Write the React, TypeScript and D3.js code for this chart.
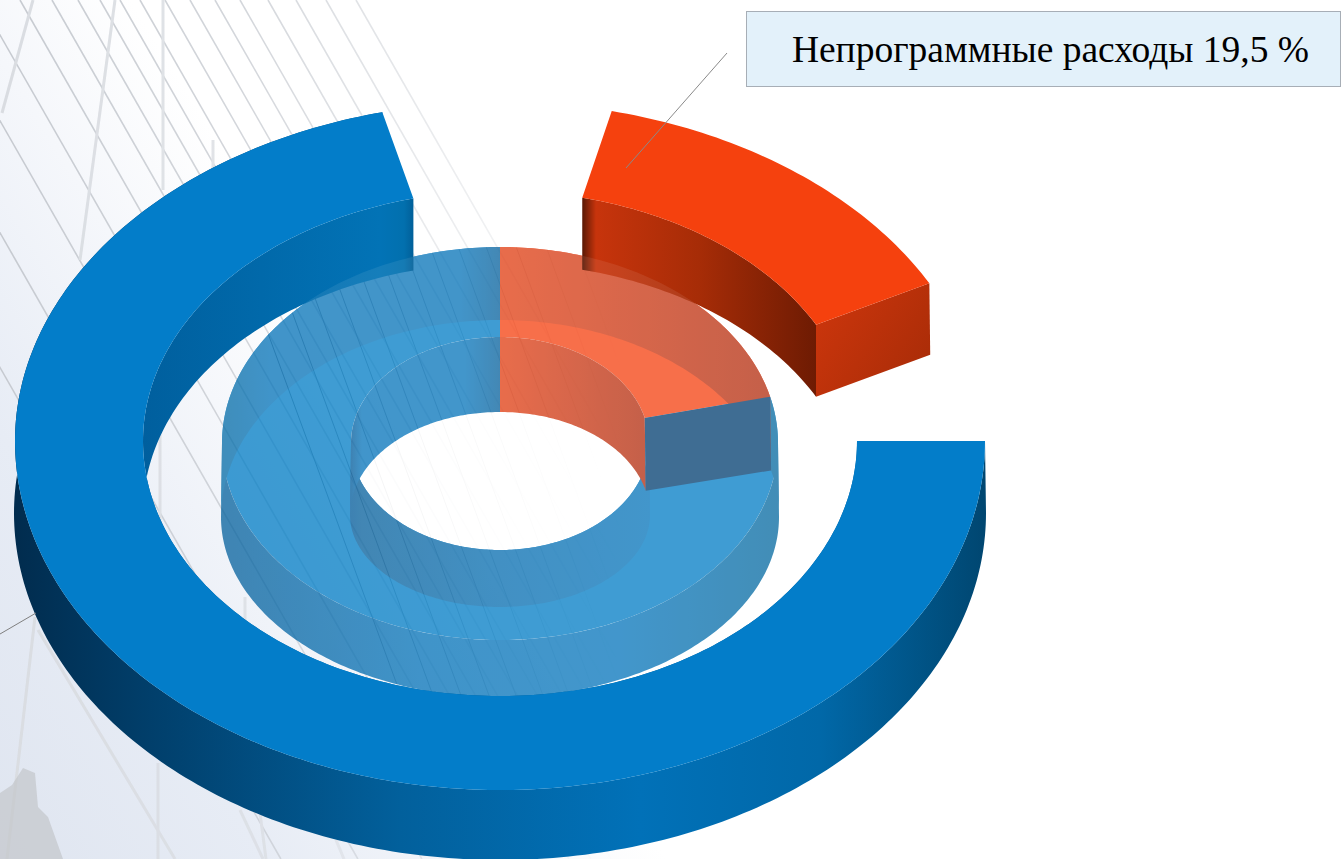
import * as d3 from 'd3';
import { useEffect, useRef } from 'react';

// Inner (translucent) ring, share of the circle
const innerNames = ['Непрограммные расходы', 'Программные расходы'];
const innerShares = [21.2, 78.8];

// Outer ring: pulled out segments with gaps between them, going clockwise from 12 o'clock
const outerNames = ['gap', 'red', 'gap', 'blue', 'gap'];
const outerShares = [3.7, 13.6, 7.7, 71.1, 3.9];

const labelText = 'Непрограммные расходы 19,5 %';

type Rim = { rx: number; cy: number; back: number; front: number };

const cx = 500;

// Perspective makes each ellipse a bit taller in front than behind
const ringTopOuter: Rim = { rx: 485, cy: 441, back: 339, front: 349 };
const ringTopInner: Rim = { rx: 357, cy: 441, back: 250, front: 255 };
const ringBotOuter: Rim = { rx: 486, cy: 513, back: 340, front: 347 };
const ringBotInner: Rim = { rx: 357, cy: 513, back: 250, front: 255 };

const coreTopOuter: Rim = { rx: 278, cy: 443, back: 196, front: 197 };
const coreTopHole: Rim = { rx: 149, cy: 443, back: 106, front: 107 };
const coreBotOuter: Rim = { rx: 279, cy: 517, back: 197, front: 180 };
const coreBotHole: Rim = { rx: 150, cy: 515, back: 103, front: 92 };

const rimPoint = (rim: Rim, a: number): [number, number] => {
    const c = Math.cos(a);
    return [cx + rim.rx * Math.sin(a), rim.cy - c * (c > 0 ? rim.back : rim.front)];
};

const rimPoints = (rim: Rim, a0: number, a1: number) => {
    const n = Math.max(2, Math.ceil(Math.abs(a1 - a0) * 60));
    return d3.range(n + 1).map((i) => rimPoint(rim, a0 + ((a1 - a0) * i) / n));
};

const line = d3.line();

// Closed shape between two rims, used for both faces and walls
const between = (r1: Rim, r2: Rim, a0: number, a1: number) =>
    line([...rimPoints(r1, a0, a1), ...rimPoints(r2, a1, a0)]) + 'Z';

const fullRim = (rim: Rim) => line(rimPoints(rim, 0, 2 * Math.PI)) + 'Z';

const App = () => {
    const ref = useRef<SVGSVGElement>(null);

    useEffect(() => {
        const svg = d3.select(ref.current);
        svg.selectAll('*').remove();
        const defs = svg.append('defs');

        const gradient = (id: string, x1: number, y1: number, x2: number, y2: number, stops: [number, string][]) => {
            const g = defs
                .append('linearGradient')
                .attr('id', id)
                .attr('gradientUnits', 'userSpaceOnUse')
                .attr('x1', x1)
                .attr('y1', y1)
                .attr('x2', x2)
                .attr('y2', y2);
            stops.forEach(([o, c]) => g.append('stop').attr('offset', o).attr('stop-color', c));
        };
        const across = (id: string, x0: number, x1: number, stops: [number, string][]) =>
            gradient(id, x0, 0, x1, 0, stops.map(([x, c]) => [(x - x0) / (x1 - x0), c]));

        gradient('bg', 0, 859, 480, 560, [
            [0, '#dfe5f0'],
            [0.4, '#e7ecf5'],
            [0.75, '#f5f7fb'],
            [1, '#ffffff'],
        ]);
        across('fade', 0, 620, [
            [0, '#ffffff'],
            [250, '#c0c0c0'],
            [620, '#000000'],
        ]);
        across('ringOuterWall', 15, 987, [
            [15, '#012c4e'],
            [150, '#013f6b'],
            [400, '#02609c'],
            [640, '#0171b8'],
            [820, '#0168a8'],
            [987, '#004670'],
        ]);
        across('ringInnerWall', 143, 413, [
            [143, '#005f9e'],
            [380, '#0273b6'],
            [404, '#0270ae'],
            [413, '#01609a'],
        ]);
        across('redInnerWall', 583, 816, [
            [583, '#5f1a05'],
            [596, '#c7340c'],
            [700, '#a62c07'],
            [816, '#6e1b03'],
        ]);
        gradient('redEndFace', 816, 325, 930, 400, [
            [0, '#c9350c'],
            [1, '#a52b07'],
        ]);
        across('coreOuterFront', 222, 779, [
            [222, '#04609c'],
            [420, '#0372b8'],
            [620, '#0374bb'],
            [779, '#03689f'],
        ]);
        across('coreOuterBack', 222, 500, [
            [222, '#036ba6'],
            [270, '#0372b8'],
            [460, '#0372b8'],
            [500, '#05609c'],
        ]);
        across('coreHoleFront', 351, 651, [
            [351, '#005a9a'],
            [362, '#05609c'],
            [500, '#036cb0'],
            [651, '#0373ba'],
        ]);
        across('coreHoleBack', 351, 500, [
            [351, '#005a9a'],
            [362, '#0373ba'],
            [465, '#0373ba'],
            [500, '#05609c'],
        ]);
        across('coreRed', 500, 779, [
            [500, '#e13c10'],
            [779, '#b02b0d'],
        ]);
        across('coreRedHole', 500, 651, [
            [500, '#e13c10'],
            [651, '#b02b0d'],
        ]);

        const mask = defs.append('mask').attr('id', 'fadeMask');
        mask.append('rect').attr('width', 1341).attr('height', 859).attr('fill', 'url(#fade)');

        // Background photo stand-in: pale sky, glass facade lines, a far tower
        svg.append('rect').attr('width', 1341).attr('height', 859).attr('fill', 'url(#bg)');
        const facade = svg.append('g').attr('mask', 'url(#fadeMask)').attr('fill', 'none');

        const diagonals = [-210, -133, -69, -20, 20, 52, 78, 100, 120, 140, 165, 190, 215, 240, 268, 296, 326, 356];
        facade
            .selectAll('.diag')
            .data(diagonals)
            .join('line')
            .attr('x1', (d) => d)
            .attr('y1', 0)
            .attr('x2', (d) => d + 859 / 1.75)
            .attr('y2', 859)
            .attr('stroke', '#c6cad0')
            .attr('stroke-width', 1.6);

        const mullions = [
            [33, 0, 2, 113],
            [115, 0, 80, 260],
            [163, 0, 163, 190],
            [213, 140, 213, 250],
            [35, 617, 7, 859],
            [158, 763, 158, 859],
            [160, 430, 160, 530],
            [245, 597, 245, 640],
            [260, 813, 266, 859],
            [38, 630, 175, 859],
            [240, 810, 263, 859],
            [336, 840, 344, 859],
        ];
        facade
            .selectAll('.mullion')
            .data(mullions)
            .join('line')
            .attr('x1', (d) => d[0])
            .attr('y1', (d) => d[1])
            .attr('x2', (d) => d[2])
            .attr('y2', (d) => d[3])
            .attr('stroke', '#d9dce1')
            .attr('stroke-width', 3);

        // Facade lines that only show through the inner ring
        const coreClip = defs.append('clipPath').attr('id', 'coreClip');
        coreClip.append('path').attr('d', fullRim(coreTopOuter));
        coreClip.append('path').attr('d', fullRim(coreBotOuter));

        const steep = [230, 262, 290, 318, 345, 372, 398, 424, 452, 480, 510, 540, 570, 600];
        facade
            .append('g')
            .attr('clip-path', 'url(#coreClip)')
            .selectAll('.steep')
            .data(steep)
            .join('line')
            .attr('x1', (d) => d)
            .attr('y1', 230)
            .attr('x2', (d) => d + 180)
            .attr('y2', 720)
            .attr('stroke', '#6f747b')
            .attr('stroke-width', 1);

        // Wash the lines out in the open hole
        defs.append('clipPath').attr('id', 'holeClip').append('path').attr('d', fullRim(coreBotHole));
        svg.append('path')
            .attr('d', fullRim(coreTopHole))
            .attr('clip-path', 'url(#holeClip)')
            .attr('fill', '#ffffff')
            .attr('opacity', 0.85);

        const tower: [number, number][] = [
            [0, 859], [0, 793], [12, 785], [23, 768], [35, 773], [38, 807], [48, 817], [63, 859],
        ];
        svg.append('path').attr('d', line(tower) + 'Z').attr('fill', '#c3c6ca').attr('opacity', 0.7);

        // Inner ring, flat translucent layer so that faces do not add up
        const pie = d3.pie<number>().sort(null).value((d) => d);
        const innerArcs = pie(innerShares);
        const outerArcs = pie(outerShares);
        const [redCore, blueCore] = innerArcs;

        const core = svg.append('g').attr('opacity', 0.75);
        core.append('path').attr('d', between(coreTopOuter, coreTopHole, blueCore.startAngle, blueCore.endAngle)).attr('fill', '#007cc5');
        core.append('path').attr('d', between(coreTopOuter, coreTopHole, redCore.startAngle, redCore.endAngle)).attr('fill', '#f53f0e');

        const rightAngle = Math.PI / 2;
        const wallSpans: [number, number, string, string][] = [
            [blueCore.startAngle, rightAngle, 'coreOuterFront', 'coreHoleFront'],
            [rightAngle, 3 * rightAngle, 'coreOuterFront', 'coreHoleFront'],
            [3 * rightAngle, blueCore.endAngle, 'coreOuterBack', 'coreHoleBack'],
        ];
        wallSpans.forEach(([a0, a1, outerFill, holeFill]) => {
            core.append('path').attr('d', between(coreTopOuter, coreBotOuter, a0, a1)).attr('fill', `url(#${outerFill})`);
            core.append('path').attr('d', between(coreTopHole, coreBotHole, a0, a1)).attr('fill', `url(#${holeFill})`);
        });
        core.append('path').attr('d', between(coreTopOuter, coreBotOuter, redCore.startAngle, redCore.endAngle)).attr('fill', 'url(#coreRed)');
        core.append('path').attr('d', between(coreTopHole, coreBotHole, redCore.startAngle, redCore.endAngle)).attr('fill', 'url(#coreRedHole)');

        // Cut face of the inner ring where the red slice ends
        const cutAngle = redCore.endAngle;
        const cut = [
            rimPoint(coreTopOuter, cutAngle),
            rimPoint(coreTopHole, cutAngle),
            rimPoint(coreBotHole, cutAngle),
            rimPoint(coreBotOuter, cutAngle),
        ] as [number, number][];
        core.append('path').attr('d', line(cut) + 'Z').attr('fill', '#003d70');

        // Outer ring
        const ring = svg.append('g');
        const red = outerArcs[outerNames.indexOf('red')];
        const blue = outerArcs[outerNames.indexOf('blue')];

        ring.append('path').attr('d', between(ringTopOuter, ringBotOuter, blue.startAngle, blue.endAngle)).attr('fill', 'url(#ringOuterWall)');
        ring.append('path').attr('d', between(ringTopInner, ringBotInner, blue.startAngle, blue.endAngle)).attr('fill', 'url(#ringInnerWall)');
        ring.append('path').attr('d', between(ringTopInner, ringBotInner, red.startAngle, red.endAngle)).attr('fill', 'url(#redInnerWall)');

        const endFace = [
            rimPoint(ringTopInner, red.endAngle),
            rimPoint(ringTopOuter, red.endAngle),
            rimPoint(ringBotOuter, red.endAngle),
            rimPoint(ringBotInner, red.endAngle),
        ] as [number, number][];
        ring.append('path').attr('d', line(endFace) + 'Z').attr('fill', 'url(#redEndFace)');

        // The walls pick up a little light where they lie over the inner ring
        const wallClip = defs.append('clipPath').attr('id', 'wallClip');
        wallClip.append('path').attr('d', between(ringTopInner, ringBotInner, blue.startAngle, blue.endAngle));
        wallClip.append('path').attr('d', between(ringTopInner, ringBotInner, red.startAngle, red.endAngle));
        ring.append('path')
            .attr('d', fullRim(coreTopOuter))
            .attr('clip-path', 'url(#wallClip)')
            .attr('fill', '#ffffff')
            .attr('opacity', 0.08);

        ring.append('path').attr('d', between(ringTopOuter, ringTopInner, blue.startAngle, blue.endAngle)).attr('fill', '#037dc9');
        ring.append('path').attr('d', between(ringTopOuter, ringTopInner, red.startAngle, red.endAngle)).attr('fill', '#f5410e');

        // Label box and leader lines
        svg.append('rect')
            .attr('x', 746.5)
            .attr('y', 11.5)
            .attr('width', 594)
            .attr('height', 75)
            .attr('fill', '#e3f1fa')
            .attr('stroke', '#a7aeb6')
            .attr('stroke-width', 1);

        svg.append('text')
            .attr('x', 1050.5)
            .attr('y', 62)
            .attr('text-anchor', 'middle')
            .style('font-family', '"Liberation Serif", serif')
            .style('font-size', '37.5px')
            .attr('fill', '#000000')
            .text(labelText);

        svg.append('line')
            .attr('x1', 727)
            .attr('y1', 53)
            .attr('x2', 626)
            .attr('y2', 168)
            .attr('stroke', '#8a8a8a')
            .attr('stroke-width', 1);

        svg.append('line')
            .attr('x1', 0)
            .attr('y1', 634)
            .attr('x2', 36)
            .attr('y2', 613)
            .attr('stroke', '#7f7f7f')
            .attr('stroke-width', 1);
    }, []);

    return (
        <svg
            ref={ref}
            width={1341}
            height={859}
            aria-label={innerNames.join(', ')}
            style={{ position: 'absolute', left: 0, top: 0, display: 'block' }}
        />
    );
};

export default App;
